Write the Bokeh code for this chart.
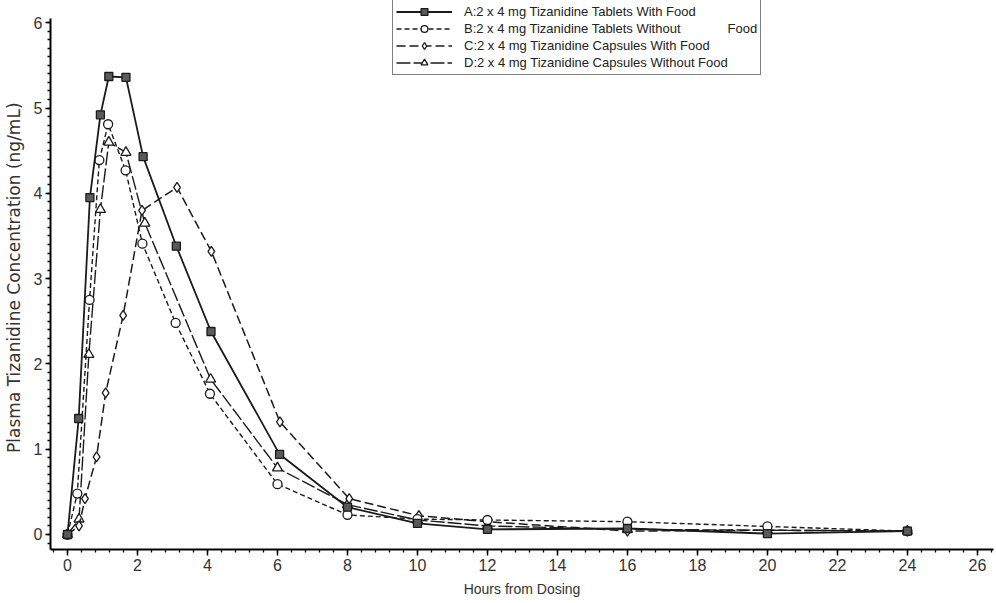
from bokeh.plotting import figure
from bokeh.models import Range1d, SingleIntervalTicker, Legend, LegendItem
from bokeh.embed import file_html
from bokeh.resources import INLINE

# ---- data (hours, ng/mL) ----
a_t = [0, 0.32, 0.64, 0.94, 1.18, 1.67, 2.16, 3.11, 4.10, 6.06, 8.0, 10.0, 12.0, 16.0, 20.0, 24.0]
a_v = [0, 1.36, 3.95, 4.92, 5.37, 5.36, 4.43, 3.38, 2.38, 0.94, 0.32, 0.13, 0.06, 0.07, 0.01, 0.04]

b_t = [0, 0.28, 0.63, 0.91, 1.16, 1.66, 2.14, 3.09, 4.07, 6.0, 8.0, 10.0, 12.0, 16.0, 20.0, 24.0]
b_v = [0, 0.48, 2.75, 4.39, 4.81, 4.27, 3.41, 2.48, 1.65, 0.59, 0.23, 0.18, 0.17, 0.15, 0.094, 0.04]

c_t = [0, 0.33, 0.50, 0.83, 1.09, 1.59, 2.13, 3.13, 4.11, 6.07, 8.05, 10.04, 12.0, 16.0, 20.0, 24.0]
c_v = [0, 0.10, 0.42, 0.91, 1.66, 2.57, 3.80, 4.07, 3.32, 1.32, 0.42, 0.22, 0.15, 0.04, 0.05, 0.04]

d_t = [0, 0.33, 0.61, 0.94, 1.18, 1.67, 2.21, 4.09, 6.0, 8.0, 10.0, 12.0, 16.0, 20.0, 24.0]
d_v = [0, 0.18, 2.11, 3.81, 4.60, 4.48, 3.65, 1.82, 0.78, 0.35, 0.17, 0.10, 0.06, 0.05, 0.04]

labels = [
    "A:2 x 4 mg Tizanidine Tablets With Food",
    "B:2 x 4 mg Tizanidine Tablets Without" + "\u00a0" * 13 + "Food",
    "C:2 x 4 mg Tizanidine Capsules With Food",
    "D:2 x 4 mg Tizanidine Capsules Without Food",
]
x_label = "Hours from Dosing"
y_label = "Plasma Tizanidine Concentration  (ng/mL)"

FONT = "Liberation Sans"

p = figure(width=996, height=603, output_backend="svg", toolbar_location=None,
           x_range=Range1d(-0.486, 26.46), y_range=Range1d(-0.176, 6.261),
           min_border_left=50, min_border_right=3, min_border_top=0,
           min_border_bottom=54)
p.outline_line_color = None
p.grid.visible = False
p.background_fill_color = "white"

# series
ink = "#1a1a1a"
ld = p.line(d_t, d_v, line_color=ink, line_width=1.4, line_dash="14 3")
sd = p.scatter(d_t, d_v, marker="triangle", size=10, fill_color="white",
               line_color=ink, line_width=1.3)
lc = p.line(c_t, c_v, line_color=ink, line_width=1.5, line_dash="9 4")
sc = p.scatter(c_t, c_v, marker="diamond", size=10, fill_color="white",
               line_color=ink, line_width=1.3)
lb = p.line(b_t, b_v, line_color=ink, line_width=1.4, line_dash="5 3")
sb = p.scatter(b_t, b_v, marker="circle", size=9, fill_color="white",
               line_color=ink, line_width=1.3)
la = p.line(a_t, a_v, line_color=ink, line_width=1.8)
sa = p.scatter(a_t, a_v, marker="square", size=8, fill_color="#5a5a5a",
               line_color=ink, line_width=1.3)

# axes
p.xaxis.ticker = SingleIntervalTicker(interval=2, num_minor_ticks=5)
p.yaxis.ticker = SingleIntervalTicker(interval=1, num_minor_ticks=10)
for ax in (p.xaxis[0], p.yaxis[0]):
    ax.axis_line_color = "black"
    ax.axis_line_width = 2
    ax.major_tick_line_color = "black"
    ax.major_tick_line_width = 1.5
    ax.minor_tick_line_color = "black"
    ax.minor_tick_line_width = 1.3
    ax.major_tick_in = 0
    ax.minor_tick_in = 0
    ax.major_tick_out = 6
    ax.minor_tick_out = 3
    ax.major_label_text_font = FONT
    ax.major_label_text_font_size = "16px"
    ax.major_label_text_color = "#333333"
    ax.axis_label_text_font_style = "normal"
    ax.axis_label_text_color = "#333333"

p.yaxis.bounds = (-0.176, 6.05)

p.xaxis.axis_label = x_label
p.xaxis.axis_label_text_font = FONT
p.xaxis.axis_label_text_font_size = "14px"
p.xaxis.major_label_standoff = 3
p.xaxis.axis_label_standoff = 7

p.yaxis.axis_label = y_label
p.yaxis.axis_label_text_font = "DejaVu Sans"
p.yaxis.axis_label_text_font_size = "17px"
p.yaxis.major_tick_out = 5
p.yaxis.major_label_standoff = 3
p.yaxis.axis_label_standoff = 7

legend = Legend(items=[
    LegendItem(label=labels[0], renderers=[la, sa]),
    LegendItem(label=labels[1], renderers=[lb, sb]),
    LegendItem(label=labels[2], renderers=[lc, sc]),
    LegendItem(label=labels[3], renderers=[ld, sd]),
], location=(342, 474), border_line_color="black", border_line_width=1,
    padding=3, spacing=0, margin=0, label_height=17, glyph_height=17,
    glyph_width=56, label_standoff=12, label_text_font=FONT,
    label_text_font_size="13px", label_text_color="#222222",
    background_fill_color="white", background_fill_alpha=1)
p.add_layout(legend)

open("out.html", "w").write(file_html(p, INLINE))
